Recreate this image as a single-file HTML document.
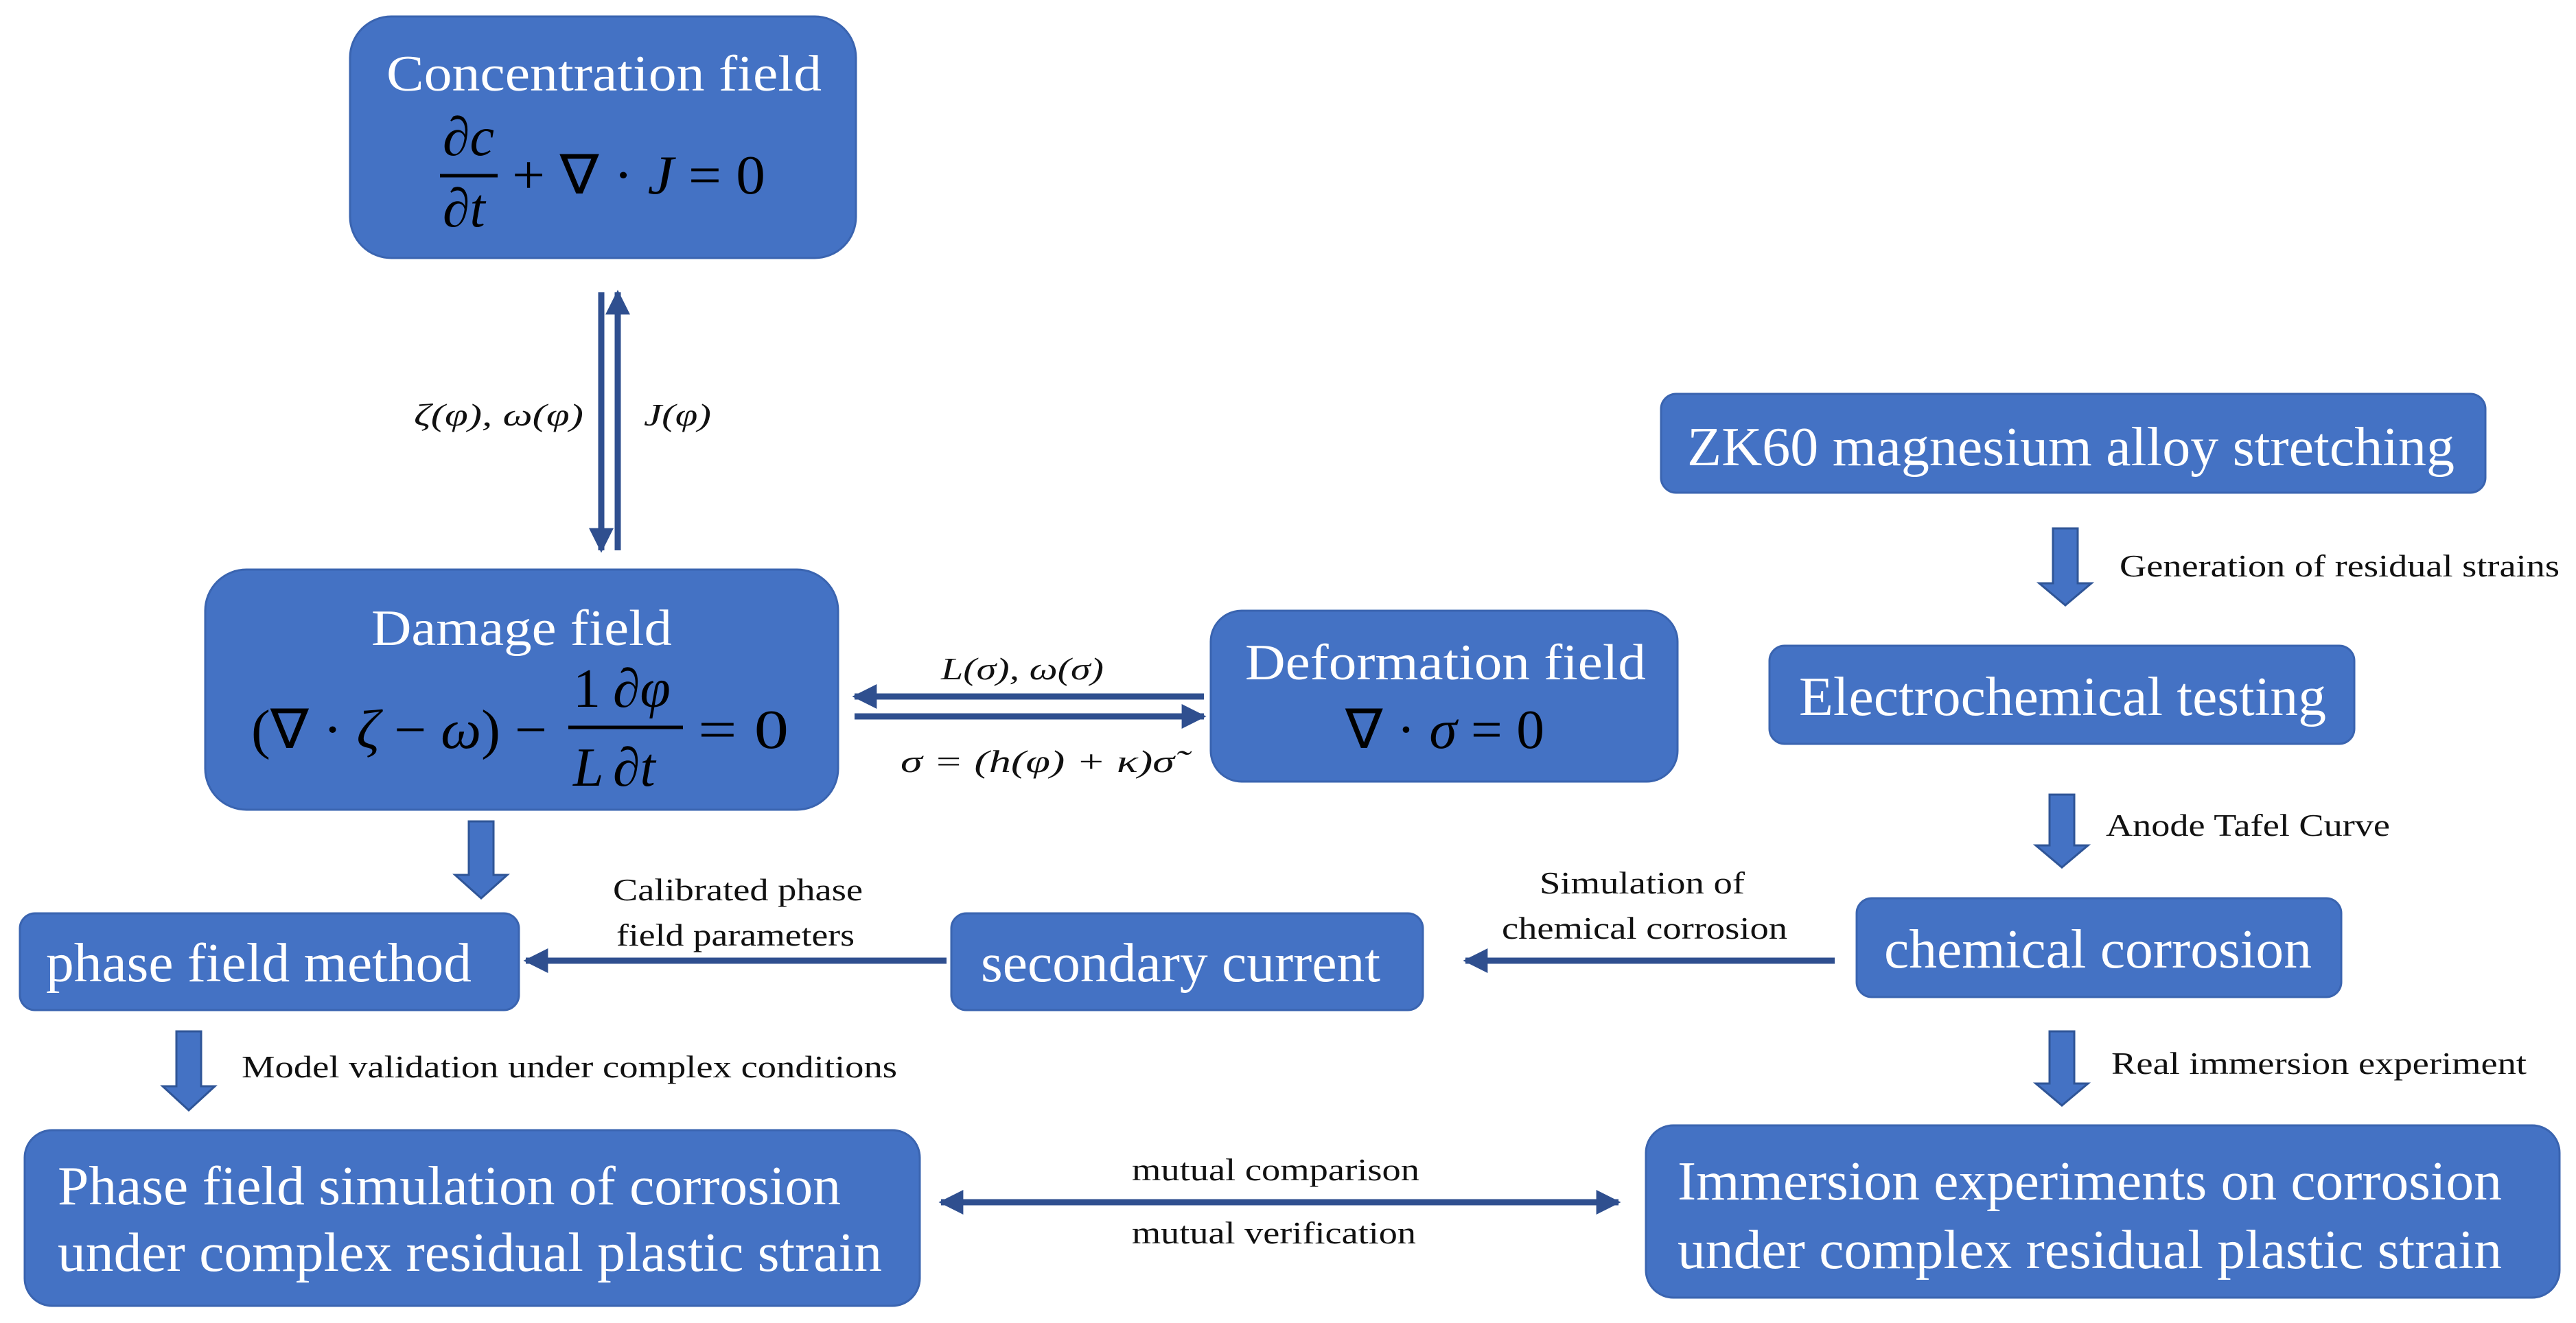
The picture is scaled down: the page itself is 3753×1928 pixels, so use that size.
<!DOCTYPE html>
<html><head><meta charset="utf-8"><style>html,body{margin:0;padding:0;background:#fff}svg{display:block}</style></head>
<body>
<svg width="3753" height="1928" viewBox="0 0 3753 1928" xmlns="http://www.w3.org/2000/svg" font-family="Liberation Serif, serif">
<defs>
<marker id="ah" viewBox="0 0 10 10" refX="9" refY="5" markerWidth="4" markerHeight="4" orient="auto-start-reverse"><path d="M0,0 L10,5 L0,10 z" fill="#2F4F8F"/></marker>
</defs>
<g fill="#4472C4" stroke="#3A64B0" stroke-width="3">
<rect x="510" y="24" width="737" height="352" rx="60"/>
<rect x="299" y="830" width="922" height="350" rx="60"/>
<rect x="1764" y="890" width="680" height="249" rx="45"/>
<rect x="2420" y="574" width="1201" height="144" rx="22"/>
<rect x="2578" y="941" width="852" height="143" rx="22"/>
<rect x="2705" y="1309" width="706" height="144" rx="22"/>
<rect x="2398" y="1640" width="1331" height="251" rx="40"/>
<rect x="1386" y="1331" width="687" height="141" rx="22"/>
<rect x="29" y="1331" width="727" height="141" rx="22"/>
<rect x="36" y="1647" width="1304" height="256" rx="40"/>
</g>
<!-- block arrows -->
<g fill="#4472C4" stroke="#2F5597" stroke-width="3">
<path d="M2991,770 h36 v80 h20 l-38,32 l-38,-32 h20 z"/>
<path d="M2986,1158 h36 v74 h20 l-38,32 l-38,-32 h20 z"/>
<path d="M2986,1503 h36 v76 h20 l-38,32 l-38,-32 h20 z"/>
<path d="M683,1197 h36 v78 h20 l-38,34 l-38,-34 h20 z"/>
<path d="M257,1503 h36 v80 h20 l-38,35 l-38,-35 h20 z"/>
</g>
<!-- thin arrows -->
<g stroke="#2F4F8F" stroke-width="9" fill="none">
<line x1="876" y1="426" x2="876" y2="802" marker-end="url(#ah)"/>
<line x1="900" y1="802" x2="900" y2="426" marker-end="url(#ah)"/>
<line x1="1754" y1="1015" x2="1245" y2="1015" marker-end="url(#ah)"/>
<line x1="1245" y1="1044" x2="1754" y2="1044" marker-end="url(#ah)"/>
<line x1="2673" y1="1400" x2="2135" y2="1400" marker-end="url(#ah)"/>
<line x1="1379" y1="1400" x2="766" y2="1400" marker-end="url(#ah)"/>
<line x1="1371" y1="1752" x2="2358" y2="1752" marker-start="url(#ah)" marker-end="url(#ah)"/>
</g>
<!-- box titles -->
<g fill="#fff" font-size="74" lengthAdjust="spacingAndGlyphs">
<text x="563" y="132" textLength="634" lengthAdjust="spacingAndGlyphs">Concentration field</text>
<text x="541" y="940" textLength="438" lengthAdjust="spacingAndGlyphs">Damage field</text>
<text x="1814" y="990" textLength="584" lengthAdjust="spacingAndGlyphs">Deformation field</text>
<text x="2458" y="678" font-size="80" textLength="1118" lengthAdjust="spacingAndGlyphs">ZK60 magnesium alloy stretching</text>
<text x="2621" y="1042" font-size="80" textLength="768" lengthAdjust="spacingAndGlyphs">Electrochemical testing</text>
<text x="2745" y="1410" font-size="80" textLength="623" lengthAdjust="spacingAndGlyphs">chemical corrosion</text>
<text x="1429" y="1430" font-size="80" textLength="582" lengthAdjust="spacingAndGlyphs">secondary current</text>
<text x="67" y="1430" font-size="80" textLength="620" lengthAdjust="spacingAndGlyphs">phase field method</text>
<text x="84" y="1755" font-size="80" textLength="1141" lengthAdjust="spacingAndGlyphs">Phase field simulation of corrosion</text>
<text x="84" y="1852" font-size="80" textLength="1201" lengthAdjust="spacingAndGlyphs">under complex residual plastic strain</text>
<text x="2444" y="1748" font-size="80" textLength="1201" lengthAdjust="spacingAndGlyphs">Immersion experiments on corrosion</text>
<text x="2444" y="1848" font-size="80" textLength="1201" lengthAdjust="spacingAndGlyphs">under complex residual plastic strain</text>
</g>
<!-- formulas -->
<g fill="#000" font-size="80" font-style="italic">
<text x="645" y="226">∂c</text>
<line x1="641" y1="256" x2="725" y2="256" stroke="#000" stroke-width="5"/>
<text x="645" y="330">∂t</text>
<text x="746" y="282" font-style="normal" textLength="369" lengthAdjust="spacingAndGlyphs">+ ∇ · <tspan font-style="italic">J</tspan> = 0</text>

<text x="366" y="1090" font-style="normal" textLength="431" lengthAdjust="spacingAndGlyphs">(∇ · <tspan font-style="italic">ζ</tspan> − <tspan font-style="italic">ω</tspan>) −</text>
<text x="835" y="1030" font-style="normal">1</text>
<text x="835" y="1145">L</text>
<text x="893" y="1030">∂φ</text>
<text x="893" y="1145">∂t</text>
<line x1="828" y1="1060" x2="995" y2="1060" stroke="#000" stroke-width="5"/>
<text x="1017" y="1090" font-style="normal" textLength="132" lengthAdjust="spacingAndGlyphs">= 0</text>

<text x="1960" y="1090" font-style="normal" textLength="290" lengthAdjust="spacingAndGlyphs">∇ · <tspan font-style="italic">σ</tspan> = 0</text>
</g>
<!-- small labels -->
<g fill="#111" font-size="46">
<text x="603" y="620" font-style="italic" textLength="247" lengthAdjust="spacingAndGlyphs">ζ(φ), ω(φ)</text>
<text x="938" y="620" font-style="italic" textLength="98" lengthAdjust="spacingAndGlyphs">J(φ)</text>
<text x="1371" y="990" font-style="italic" textLength="237" lengthAdjust="spacingAndGlyphs">L(σ), ω(σ)</text>
<text x="1312" y="1125" font-style="italic" textLength="399" lengthAdjust="spacingAndGlyphs">σ =  (h(φ) + κ)σ̃</text>
<text x="3088" y="840" textLength="641" lengthAdjust="spacingAndGlyphs">Generation of residual strains</text>
<text x="3068" y="1218" textLength="414" lengthAdjust="spacingAndGlyphs">Anode Tafel Curve</text>
<text x="3076" y="1565" textLength="605" lengthAdjust="spacingAndGlyphs">Real immersion experiment</text>
<text x="2243" y="1302" textLength="299" lengthAdjust="spacingAndGlyphs">Simulation of</text>
<text x="2188" y="1368" textLength="416" lengthAdjust="spacingAndGlyphs">chemical corrosion</text>
<text x="893" y="1312" textLength="364" lengthAdjust="spacingAndGlyphs">Calibrated phase</text>
<text x="898" y="1378" textLength="347" lengthAdjust="spacingAndGlyphs">field parameters</text>
<text x="352" y="1570" textLength="955" lengthAdjust="spacingAndGlyphs">Model validation under complex conditions</text>
<text x="1649" y="1720" textLength="419" lengthAdjust="spacingAndGlyphs">mutual comparison</text>
<text x="1649" y="1812" textLength="414" lengthAdjust="spacingAndGlyphs">mutual verification</text>
</g>
</svg>
</body></html>
